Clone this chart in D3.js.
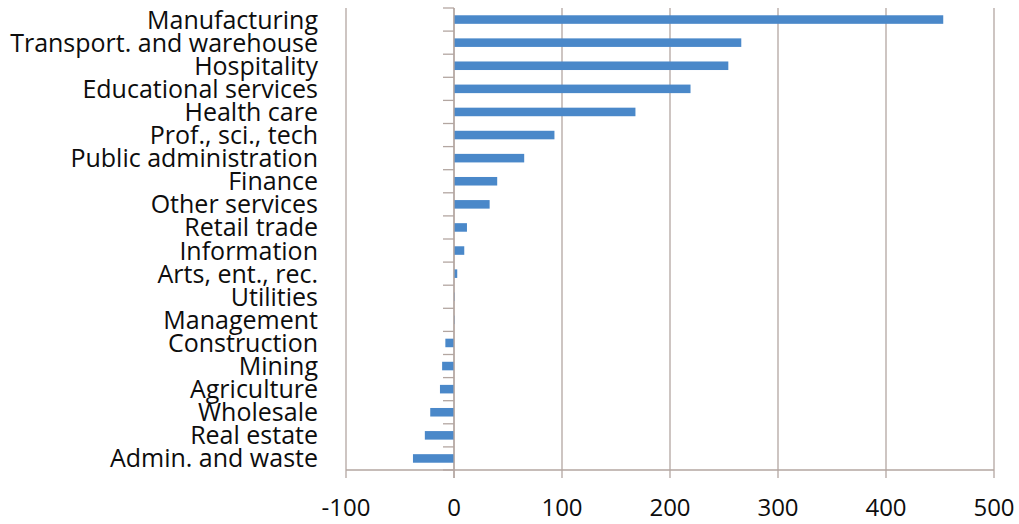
<!DOCTYPE html>
<html>
<head>
<meta charset="utf-8">
<script src="https://cdn.jsdelivr.net/npm/d3@7"></script>
<style>
  html, body { margin: 0; padding: 0; background: #fff; }
  svg { display: block; }
  text { font-family: "Open Sans", Lato, sans-serif; fill: #0d0d0d; }
</style>
</head>
<body>
<svg id="chart" width="1019" height="524"></svg>
<script>
// Change by industry (thousands), top to bottom
const industries = [
  "Manufacturing", "Transport. and warehouse", "Hospitality", "Educational services",
  "Health care", "Prof., sci., tech", "Public administration", "Finance",
  "Other services", "Retail trade", "Information", "Arts, ent., rec.",
  "Utilities", "Management", "Construction", "Mining", "Agriculture",
  "Wholesale", "Real estate", "Admin. and waste"
];
const changes = [
  453, 266, 254, 219, 168, 93, 65, 40, 33, 12, 9.5, 3,
  0.5, 0.5, -8, -11, -13, -22, -27, -38
];
const xTicks = [-100, 0, 100, 200, 300, 400, 500];

const svg = d3.select("#chart");
const margin = { top: 8, right: 25, bottom: 54, left: 346 };
const W = 1019, H = 524;
const innerW = W - margin.left - margin.right;
const innerH = H - margin.top - margin.bottom;

const x = d3.scaleLinear().domain([-100, 500]).range([0, innerW]);
const y = d3.scaleBand().domain(industries).range([0, innerH]).paddingInner(0.63).paddingOuter(0.315);

const g = svg.append("g").attr("transform", `translate(${margin.left},${margin.top})`);
const gridColor = "#b3a6a1";

// vertical gridlines with ticks below the baseline
g.append("g")
  .selectAll("line")
  .data(xTicks)
  .join("line")
  .attr("x1", d => x(d)).attr("x2", d => x(d))
  .attr("y1", 0).attr("y2", innerH + 8)
  .attr("stroke", gridColor).attr("stroke-width", 1.3);

// bottom axis line
g.append("line")
  .attr("x1", 0).attr("x2", innerW)
  .attr("y1", innerH).attr("y2", innerH)
  .attr("stroke", gridColor).attr("stroke-width", 1.3);

// bars
g.append("g")
  .selectAll("rect")
  .data(changes)
  .join("rect")
  .attr("x", d => x(Math.min(0, d)))
  .attr("y", (d, i) => y(industries[i]))
  .attr("width", d => Math.abs(x(d) - x(0)))
  .attr("height", y.bandwidth())
  .attr("fill", "#4a88c9");

// category axis at zero with tick marks between categories
const step = y.step();
const catTicks = d3.range(industries.length + 1).map(i => i * step);
g.append("line")
  .attr("x1", x(0)).attr("x2", x(0))
  .attr("y1", 0).attr("y2", innerH + 8)
  .attr("stroke", gridColor).attr("stroke-width", 1.3);
g.append("g")
  .selectAll("line")
  .data(catTicks)
  .join("line")
  .attr("x1", x(0) - 11).attr("x2", x(0))
  .attr("y1", d => d).attr("y2", d => d)
  .attr("stroke", gridColor).attr("stroke-width", 1.3);

// category labels
g.append("g")
  .selectAll("text")
  .data(industries)
  .join("text")
  .attr("x", -28)
  .attr("y", d => y(d) + y.bandwidth() / 2)
  .attr("dy", "0.36em")
  .attr("text-anchor", "end")
  .attr("font-size", 25)
  .text(d => d);

// value axis labels
g.append("g")
  .selectAll("text")
  .data(xTicks)
  .join("text")
  .attr("x", d => x(d))
  .attr("y", innerH + 46)
  .attr("text-anchor", "middle")
  .attr("font-size", 24)
  .text(d => d);
</script>
</body>
</html>
